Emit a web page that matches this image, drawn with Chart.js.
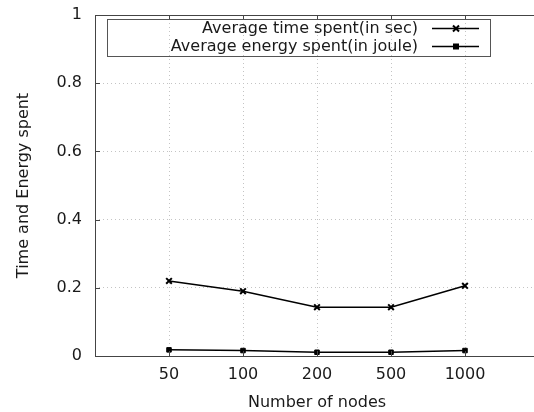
<!DOCTYPE html>
<html>
<head>
<meta charset="utf-8">
<script src="https://cdn.jsdelivr.net/npm/chart.js@4/dist/chart.umd.min.js"></script>
<style>
  html, body { margin: 0; padding: 0; background: #fff; overflow: hidden; width: 534px; height: 412px; }
  #wrap { width: 546px; height: 412px; }
</style>
</head>
<body>
<div id="wrap"><canvas id="nodesChart" width="546" height="412"></canvas></div>
<script>
// values
const nodes = ['50', '100', '200', '500', '1000'];
const timeSpent = [0.22, 0.19, 0.143, 0.143, 0.206];
const energySpent = [0.018, 0.016, 0.011, 0.011, 0.016];
const yTicks = [0, 0.2, 0.4, 0.6, 0.8, 1];

const FONT = "'DejaVu Sans', sans-serif";
const INK = '#1a1a1a';
const FS = 16;

function points(vals) {
    return vals.map((v, i) => ({ x: i + 1, y: v }));
}

// gnuplot style frame, inner ticks and key box
const framePlugin = {
    id: 'frame',
    afterDatasetsDraw(chart) {
        const ctx = chart.ctx;
        const a = chart.chartArea;
        const xs = chart.scales.x, ys = chart.scales.y;
        ctx.save();
        ctx.strokeStyle = '#444';
        ctx.lineWidth = 1;
        ctx.strokeRect(a.left + 0.5, a.top + 0.5, a.right - a.left, a.bottom - a.top);
        ctx.beginPath();
        nodes.forEach((n, i) => {
            const px = Math.round(xs.getPixelForValue(i + 1)) + 0.5;
            ctx.moveTo(px, a.bottom); ctx.lineTo(px, a.bottom - 5);
            ctx.moveTo(px, a.top); ctx.lineTo(px, a.top + 5);
        });
        yTicks.forEach(v => {
            const py = Math.round(ys.getPixelForValue(v)) + 0.5;
            ctx.moveTo(a.left, py); ctx.lineTo(a.left + 5, py);
            ctx.moveTo(a.right, py); ctx.lineTo(a.right - 5, py);
        });
        ctx.stroke();

        // key
        const bx = a.left + 12, by = a.top + 4, bw = 383, bh = 37;
        ctx.strokeStyle = '#555';
        ctx.strokeRect(bx + 0.5, by + 0.5, bw, bh);
        ctx.font = FS + 'px ' + FONT;
        ctx.fillStyle = INK;
        ctx.textAlign = 'right';
        ctx.textBaseline = 'middle';
        chart.data.datasets.forEach((ds, k) => {
            const cy = by + 9.5 + k * 18;
            ctx.fillText(ds.label, bx + 311, cy);
            ctx.strokeStyle = '#000';
            ctx.lineWidth = 1.5;
            ctx.beginPath();
            ctx.moveTo(bx + 325, cy); ctx.lineTo(bx + 372, cy);
            ctx.stroke();
            const mx = bx + 349;
            if (ds.pointStyle === 'crossRot') {
                ctx.lineWidth = 2;
                ctx.beginPath();
                ctx.moveTo(mx - 3, cy - 3); ctx.lineTo(mx + 3, cy + 3);
                ctx.moveTo(mx - 3, cy + 3); ctx.lineTo(mx + 3, cy - 3);
                ctx.stroke();
            } else {
                ctx.fillStyle = '#000';
                ctx.fillRect(mx - 3, cy - 3, 6, 6);
                ctx.fillStyle = INK;
            }
        });
        ctx.restore();
    }
};

new Chart(document.getElementById('nodesChart'), {
    type: 'line',
    data: {
        datasets: [{
            label: 'Average time spent(in sec)',
            data: points(timeSpent),
            borderColor: '#000',
            backgroundColor: '#000',
            borderWidth: 1.5,
            pointStyle: 'crossRot',
            pointRadius: 4,
            pointBorderWidth: 2,
            tension: 0
        }, {
            label: 'Average energy spent(in joule)',
            data: points(energySpent),
            borderColor: '#000',
            backgroundColor: '#000',
            borderWidth: 1.5,
            pointStyle: 'rect',
            pointRadius: 3.2,
            pointBorderWidth: 1,
            tension: 0
        }]
    },
    options: {
        responsive: false,
        animation: false,
        layout: { padding: { top: 15, right: 7, left: 0, bottom: 0 } },
        plugins: {
            legend: { display: false },
            tooltip: { enabled: false }
        },
        scales: {
            x: {
                type: 'linear',
                min: 0,
                max: 6,
                afterBuildTicks: s => { s.ticks = nodes.map((n, i) => ({ value: i + 1 })); },
                afterFit: s => { s.height = 56; s.paddingLeft = 0; s.paddingRight = 0; },
                grid: { color: '#c4c4c4', drawTicks: false },
                border: { display: false, dash: [1, 3] },
                ticks: {
                    callback: v => nodes[v - 1],
                    padding: 9,
                    maxRotation: 0,
                    color: INK,
                    font: { family: FONT, size: FS }
                },
                title: {
                    display: true,
                    text: 'Number of nodes',
                    color: INK,
                    font: { family: FONT, size: FS },
                    padding: { top: 0, bottom: 0 }
                }
            },
            y: {
                min: 0,
                max: 1,
                afterBuildTicks: s => { s.ticks = yTicks.map(v => ({ value: v })); },
                afterFit: s => { s.width = 95; s.paddingTop = 0; s.paddingBottom = 0; },
                grid: { color: '#c4c4c4', drawTicks: false },
                border: { display: false, dash: [1, 3] },
                ticks: {
                    callback: v => String(v),
                    padding: 13,
                    color: INK,
                    font: { family: FONT, size: FS }
                },
                title: {
                    display: true,
                    text: 'Time and Energy spent',
                    color: INK,
                    font: { family: FONT, size: FS },
                    padding: { top: 14, bottom: 0 }
                }
            }
        }
    },
    plugins: [framePlugin]
});
</script>
</body>
</html>
